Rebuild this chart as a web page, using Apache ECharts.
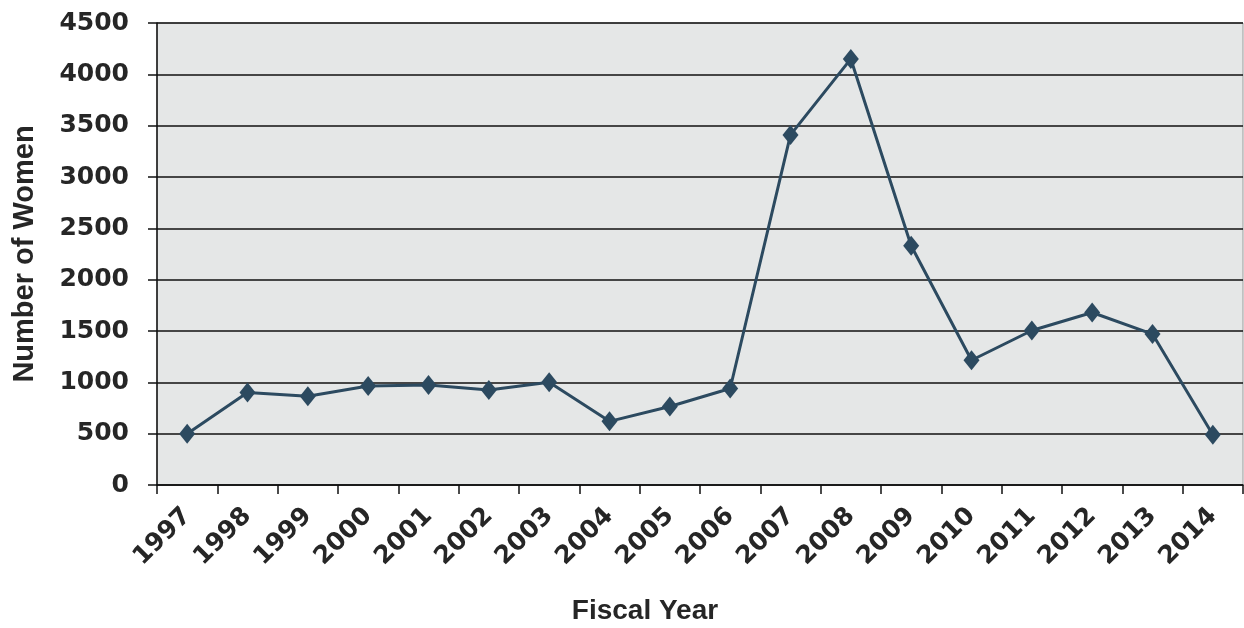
<!DOCTYPE html>
<html>
<head>
<meta charset="utf-8">
<script src="https://cdn.jsdelivr.net/npm/echarts@6/dist/echarts.min.js"></script>
<style>
html,body{margin:0;padding:0;background:#fff;}
#chart{width:1244px;height:628px;}
</style>
</head>
<body>
<div id="chart"></div>
<script>
const years = ['1997','1998','1999','2000','2001','2002','2003','2004','2005','2006','2007','2008','2009','2010','2011','2012','2013','2014'];
const women = [500, 900, 865, 965, 975, 925, 1000, 620, 765, 940, 3410, 4150, 2330, 1215, 1505, 1680, 1470, 490];
const yTicks = [0, 500, 1000, 1500, 2000, 2500, 3000, 3500, 4000, 4500];

const chart = echarts.init(document.getElementById('chart'), null, {renderer: 'canvas'});
const font = "'Liberation Sans', Arial, sans-serif";
const wide = "'DejaVu Sans', sans-serif";
chart.setOption({
  animation: false,
  grid: {
    left: 157, right: 1, top: 23, bottom: 143,
    containLabel: false, outerBoundsMode: 'none',
    show: true, backgroundColor: '#e5e7e7', borderColor: '#9a9a9a', borderWidth: 1
  },
  xAxis: {
    type: 'category',
    data: years,
    boundaryGap: true,
    name: 'Fiscal Year',
    nameLocation: 'middle',
    nameGap: 112,
    nameTextStyle: {fontFamily: font, fontWeight: 'bold', fontSize: 28, color: '#262626', padding: [0, 110, 0, 0]},
    axisLine: {lineStyle: {color: '#111', width: 1.5}},
    axisTick: {show: true, alignWithLabel: false, length: 9, lineStyle: {color: '#111', width: 1.5}},
    axisLabel: {rotate: 45, margin: 27, fontFamily: wide, fontWeight: 'bold', fontSize: 25, color: '#262626', interval: 0}
  },
  yAxis: {
    type: 'value',
    min: 0, max: 4500, interval: 500,
    name: 'Number of Women',
    nameLocation: 'middle',
    nameGap: 118,
    nameTextStyle: {fontFamily: font, fontWeight: 'bold', fontSize: 29, color: '#262626'},
    axisLine: {show: true, lineStyle: {color: '#111', width: 1.5}},
    axisTick: {show: true, length: 9, lineStyle: {color: '#111', width: 1.5}},
    axisLabel: {
      margin: 28, fontFamily: wide, fontWeight: 'bold', fontSize: 25, color: '#262626',
      formatter: v => yTicks.includes(v) ? String(v) : ''
    },
    splitLine: {show: true, lineStyle: {color: '#111', width: 1.5}}
  },
  series: [{
    type: 'line',
    data: women,
    symbol: 'diamond',
    symbolSize: [16, 20],
    lineStyle: {color: '#2c4a60', width: 3},
    itemStyle: {color: '#2c4a60'}
  }]
});
</script>
</body>
</html>
